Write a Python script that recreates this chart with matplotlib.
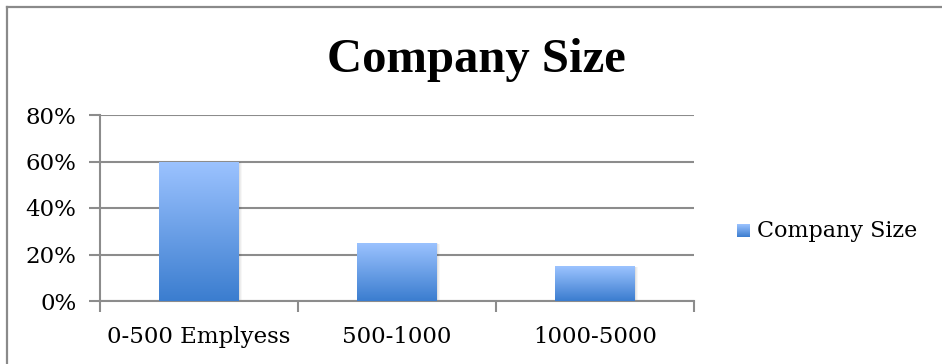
import numpy as np
import matplotlib
matplotlib.use("Agg")
import matplotlib.pyplot as plt
from matplotlib.colors import LinearSegmentedColormap
from matplotlib.lines import Line2D
from matplotlib.patches import Rectangle

categories = ["0-500 Emplyess", "500-1000", "1000-5000"]
shares = [0.60, 0.25, 0.15]
yticks = [0.0, 0.2, 0.4, 0.6, 0.8]
series_name = "Company Size"
title = "Company Size"

plt.rcParams['font.family'] = ['DejaVu Serif']

fig = plt.figure(figsize=(9.42, 3.64), dpi=100)
fig.patch.set_facecolor("white")

# frame around the chart (only top and left edge show)
fig.add_artist(Line2D([6.5/942, 6.5/942], [0, 1 - 6.5/364], color="#8a8a8a", lw=1.6,
                      transform=fig.transFigure))
fig.add_artist(Line2D([6.5/942, 1], [1 - 6.5/364, 1 - 6.5/364], color="#8a8a8a", lw=1.6,
                      transform=fig.transFigure))

ax = fig.add_axes([100/942, 63/364, 594/942, 186/364])
ax.set_xlim(0, 3)
ax.set_ylim(0, 0.8)

grad = LinearSegmentedColormap.from_list("bar", ["#3b7dcf", "#9cc3ff"])
x = np.arange(len(categories)) + 0.5
bars = ax.bar(x, shares, width=0.4, color="none", zorder=3)
g = np.linspace(0, 1, 256).reshape(-1, 1)
for b in bars:
    x0, y0, w, h = b.get_x(), b.get_y(), b.get_width(), b.get_height()
    # soft shadow to the right and below
    for k, a in [(0.016, 0.03), (0.010, 0.04), (0.005, 0.05)]:
        ax.add_patch(Rectangle((x0 + k, y0 - k / 3), w, h, color="#000000",
                               alpha=a, zorder=2, lw=0))
    im = ax.imshow(g, cmap=grad, origin="lower", aspect="auto",
                   extent=[x0, x0 + w, y0, y0 + h], zorder=3)
    im.set_clip_path(b)

ax.set_yticks(yticks)
ax.set_yticklabels([f"{int(round(v*100))}%" for v in yticks], fontsize=16.5)
ax.yaxis.grid(True, color="#8c8c8c", lw=1.5)
ax.set_axisbelow(True)

ax.set_xticks([0, 1, 2, 3])
ax.set_xticklabels([])
ax.set_xticks(x, minor=True)
ax.set_xticklabels(categories, minor=True, fontsize=16.5)
ax.tick_params(axis="x", which="minor", length=0, pad=18)
ax.tick_params(axis="x", which="major", length=8, width=1.5, color="#8c8c8c")
ax.tick_params(axis="y", length=8, width=1.5, color="#8c8c8c", pad=9)

for s in ["top", "right"]:
    ax.spines[s].set_visible(False)
for s in ["left", "bottom"]:
    ax.spines[s].set_color("#8c8c8c")
    ax.spines[s].set_linewidth(1.5)

fig.text(476/942, 1 - 60/364, title, ha="center", va="center", fontsize=35,
         fontweight="bold", family=["Liberation Serif"])

# legend entry
leg_sq = fig.add_axes([737/942, 1 - 237/364, 13/942, 13/364])
leg_sq.imshow(g, cmap=grad, origin="lower", aspect="auto", extent=[0, 1, 0, 1])
leg_sq.axis("off")
fig.text(757/942, 1 - 231/364, series_name, ha="left", va="center", fontsize=16)

fig.savefig("out.png", dpi=100)
